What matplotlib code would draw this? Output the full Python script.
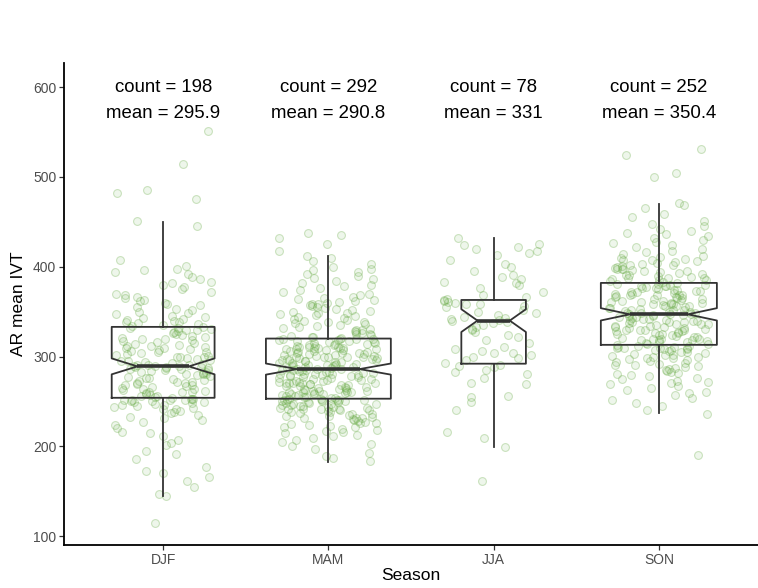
import numpy as np
import matplotlib
matplotlib.use("Agg")
import matplotlib.pyplot as plt

plt.rcParams['font.family'] = ['Liberation Sans', 'DejaVu Sans']

seasons = ["DJF", "MAM", "JJA", "SON"]
counts = [198, 292, 78, 252]
means = [295.9, 290.8, 331, 350.4]

# box statistics
box_lo = [145, 183, 199, 237]
box_q1 = [254, 253, 292, 313]
box_med = [289, 286, 340, 347]
box_q3 = [333, 320, 363, 382]
box_hi = [450, 412, 432, 470]

# AR mean IVT of each event (estimated from the jittered points)
ivt_djf = [114, 145, 147, 155, 161, 166, 170, 173, 177, 186, 191, 195, 201, 204, 207,
           211, 215, 216, 220, 224, 227, 229, 231, 233, 235, 237, 238, 239, 241, 242,
           243, 244, 245, 246, 246, 247, 248, 249, 249, 250, 250, 251, 251, 252, 252,
           253, 253, 253, 254,
           255, 256, 256, 257, 258, 259, 260, 260, 261, 262, 263, 264, 264, 265, 266,
           267, 268, 268, 269, 270, 271, 272, 272, 273, 274, 275, 276, 276, 277, 278,
           279, 280, 280, 281, 282, 283, 283, 284, 285, 285, 286, 286, 287, 287, 288,
           288, 288, 289, 289, 289,
           290, 291, 291, 292, 293, 294, 295, 295, 296, 297, 298, 299, 300, 300, 301,
           302, 303, 304, 305, 305, 306, 307, 308, 309, 310, 311, 312, 312, 313, 314,
           315, 316, 317, 318, 319, 320, 321, 322, 323, 324, 325, 326, 327, 328, 329,
           330, 331, 332, 332, 333,
           334, 335, 336, 337, 338, 339, 340, 341, 342, 343, 344, 345, 347, 348, 350,
           352, 353, 355, 357, 359, 360, 362, 363, 365, 366, 368, 370, 372, 375, 377,
           380, 382, 383, 386, 389, 392, 394, 396, 398, 401, 407, 445, 451, 475, 482,
           485, 514, 551]

ivt_mam = [184, 187, 189, 193, 197, 200, 203, 205, 207, 209, 211, 213, 215, 216, 218,
           219, 221, 222, 223, 224, 225, 226, 227, 228, 229, 230, 231, 232, 233, 234,
           234, 235, 236, 237, 238, 238, 239, 240, 240, 241, 242, 242, 243, 243, 244,
           244, 245, 245, 246, 246, 247, 247, 248, 248, 249, 249, 250, 250, 250, 251,
           251, 251, 252, 252, 252, 253, 253, 217, 226, 231, 236, 241, 247,
           254, 254, 255, 255, 256, 256, 257, 257, 258, 258, 259, 259, 260, 260, 261,
           261, 262, 262, 263, 263, 264, 264, 265, 265, 266, 266, 267, 267, 268, 268,
           269, 269, 270, 270, 271, 271, 272, 272, 273, 273, 274, 274, 275, 275, 276,
           276, 277, 277, 278, 278, 279, 279, 280, 280, 281, 281, 282, 282, 283, 283,
           284, 284, 285, 285, 285, 286, 286, 286, 262, 271, 279, 258,
           287, 287, 288, 288, 289, 289, 290, 290, 291, 291, 292, 292, 293, 293, 294,
           294, 295, 295, 296, 296, 297, 297, 298, 298, 299, 299, 300, 300, 301, 301,
           302, 302, 303, 303, 304, 304, 305, 305, 306, 306, 307, 307, 308, 308, 309,
           309, 310, 310, 311, 311, 312, 312, 313, 313, 314, 314, 315, 315, 316, 316,
           317, 317, 318, 318, 319, 319, 320, 320, 296, 304, 311, 299, 308,
           321, 322, 322, 323, 324, 325, 325, 326, 327, 328, 329, 330, 331, 332, 333,
           334, 335, 336, 337, 338, 339, 340, 341, 342, 343, 344, 345, 346, 347, 348,
           349, 350, 351, 352, 353, 354, 355, 356, 357, 358, 359, 360, 361, 362, 363,
           364, 365, 366, 368, 370, 372, 374, 376, 378, 380, 382, 384, 386, 388, 390,
           392, 394, 396, 398, 400, 403, 406, 410, 412, 418, 425, 432, 435, 438]

ivt_jja = [161, 199, 209, 216, 240, 249, 255, 256, 269, 270, 276, 281, 283, 285, 288,
           289, 291, 293, 296, 298, 300, 302, 304, 304, 306, 308, 311, 315, 318, 322,
           324, 327, 329, 331, 333, 335, 337, 339, 340, 341, 342, 343, 344, 346, 348,
           350, 352, 355, 356, 358, 359, 360, 361, 362, 363, 364, 366, 369, 372, 376,
           380, 382, 383, 386, 389, 391, 395, 400, 403, 408, 413, 415, 418, 420, 422,
           424, 425, 432]

ivt_son = [190, 236, 240, 245, 248, 251, 254, 257, 259, 261, 263, 265, 267, 269, 270,
           272, 273, 275, 276, 278, 279, 280, 282, 283, 284, 285, 286, 287, 288, 289,
           290, 291, 292, 293, 294, 295, 296, 297, 298, 298, 299, 300, 301, 302, 302,
           303, 304, 305, 305, 306, 307, 307, 308, 308, 309, 309, 310, 310, 311, 311,
           312, 312, 313,
           314, 314, 315, 316, 316, 317, 318, 318, 319, 320, 320, 321, 322, 322, 323,
           324, 324, 325, 326, 326, 327, 328, 328, 329, 330, 330, 331, 332, 332, 333,
           334, 334, 335, 336, 336, 337, 338, 338, 339, 340, 340, 341, 342, 342, 343,
           344, 344, 345, 345, 346, 346, 347, 347, 347, 318, 329, 336, 341, 325, 333,
           348, 348, 349, 350, 350, 351, 352, 352, 353, 354, 354, 355, 356, 356, 357,
           358, 358, 359, 360, 360, 361, 362, 362, 363, 364, 364, 365, 366, 366, 367,
           368, 368, 369, 370, 370, 371, 372, 372, 373, 374, 374, 375, 376, 376, 377,
           378, 378, 379, 380, 380, 381, 381, 382, 352, 361, 369, 356, 373, 365,
           383, 384, 385, 386, 387, 388, 389, 390, 391, 392, 393, 394, 395, 396, 397,
           398, 399, 400, 401, 402, 403, 404, 405, 406, 407, 408, 409, 410, 411, 412,
           414, 416, 418, 420, 422, 424, 426, 428, 430, 432, 434, 436, 438, 440, 442,
           445, 448, 451, 455, 459, 465, 469, 471, 500, 505, 524, 531, 388, 395, 402,
           385, 391, 398]

groups = [ivt_djf, ivt_mam, ivt_jja, ivt_son]

point_col = '#62a83e'
line_col = '#333333'

fig = plt.figure(figsize=(7.58, 5.88), dpi=100)
ax = fig.add_axes([64 / 758, 43 / 588, 1 - 64 / 758, 482 / 588])

# jittered points, horizontal spread derived from index and value (no rng)
for k, vals in enumerate(groups):
    vals = np.asarray(vals, dtype=float)
    idx = np.arange(len(vals))
    frac = (idx * 0.4142135 + vals * 0.7317 + idx * idx * 0.0173 + 0.29 * k) % 1.0
    off = (frac - 0.5) * 0.6
    ax.scatter(k + 1 + off, vals, s=32,
               facecolor=matplotlib.colors.to_rgba(point_col, 0.10),
               edgecolor=matplotlib.colors.to_rgba(point_col, 0.30),
               linewidths=0.8, zorder=2)

# notched, variable-width boxes
stats = []
for k in range(4):
    iqr = box_q3[k] - box_q1[k]
    half = 1.58 * iqr / np.sqrt(counts[k])
    stats.append(dict(label=seasons[k], whislo=box_lo[k], q1=box_q1[k],
                      med=box_med[k], q3=box_q3[k], whishi=box_hi[k],
                      cilo=box_med[k] - half, cihi=box_med[k] + half, fliers=[]))
widths = [0.756 * np.sqrt(n / max(counts)) for n in counts]
ax.bxp(stats, positions=[1, 2, 3, 4], widths=widths, shownotches=True,
       showcaps=False, showfliers=False,
       boxprops=dict(color=line_col, linewidth=1.3),
       whiskerprops=dict(color=line_col, linewidth=1.3),
       medianprops=dict(color=line_col, linewidth=2.6),
       zorder=3)

for k in range(4):
    ax.text(k + 1, 600, "count = %d" % counts[k], ha='center', va='center', fontsize=13.4)
    ax.text(k + 1, 571, "mean = %s" % ('%g' % means[k]), ha='center', va='center', fontsize=13.4)

ax.set_xlim(0.4, 4.6)
ax.set_ylim(90, 627)
ax.set_xticks([1, 2, 3, 4])
ax.set_xticklabels(seasons)
ax.set_yticks([100, 200, 300, 400, 500, 600])
ax.tick_params(length=3.5, width=0.9, color=line_col, labelcolor='#4d4d4d', labelsize=10, pad=2)
for s in ['top', 'right']:
    ax.spines[s].set_visible(False)
for s in ['left', 'bottom']:
    ax.spines[s].set_linewidth(1.3)
    ax.spines[s].set_color('black')
ax.set_xlabel("Season", fontsize=12.5, labelpad=1)
ax.set_ylabel("AR mean IVT", fontsize=12.5, labelpad=5)

fig.savefig("out.png", dpi=100)
